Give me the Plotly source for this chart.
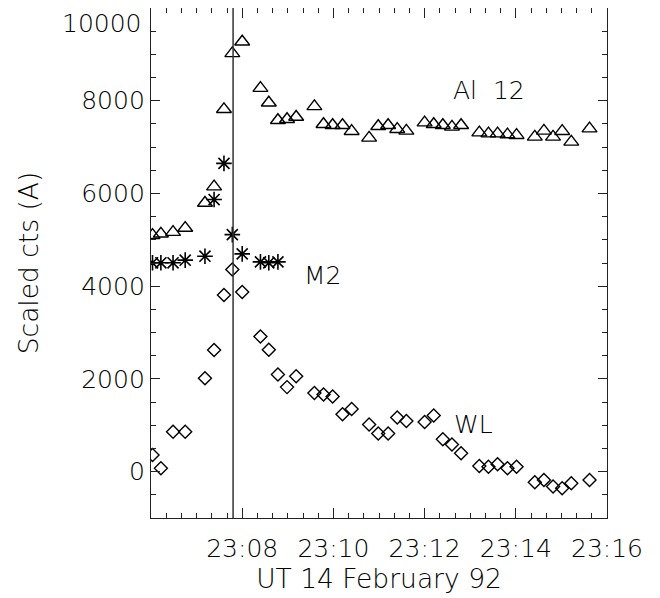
import plotly.graph_objects as go

DAY = "1992-02-14 "

# Observation times (UT) shared by the Al 12 and WL series
obs_times = ["23:06:02", "23:06:13", "23:06:29", "23:06:45", "23:07:11", "23:07:23",
             "23:07:36", "23:07:47", "23:08:00", "23:08:24", "23:08:35", "23:08:47",
             "23:08:59", "23:09:11", "23:09:35", "23:09:47", "23:09:59", "23:10:12",
             "23:10:24", "23:10:47", "23:10:59", "23:11:12", "23:11:24", "23:11:36",
             "23:12:00", "23:12:12", "23:12:24", "23:12:36", "23:12:48", "23:13:12",
             "23:13:24", "23:13:36", "23:13:49", "23:14:01", "23:14:25", "23:14:37",
             "23:14:49", "23:15:01", "23:15:13", "23:15:37"]

al12 = [5100, 5130, 5165, 5254, 5795, 6148, 7815, 9022, 9273, 8271,
        7956, 7579, 7600, 7650, 7879, 7493, 7471, 7471, 7343, 7199,
        7450, 7471, 7386, 7349, 7527, 7493, 7471, 7435, 7471, 7313,
        7291, 7291, 7270, 7257, 7221, 7349, 7221, 7343, 7113, 7399]

wl = [358, 73, 858, 858, 2016, 2625, 3811, 4362, 3875, 2917,
      2631, 2095, 1823, 2059, 1694, 1666, 1623, 1237, 1351, 1016,
      823, 823, 1166, 1094, 1072, 1209, 701, 587, 395, 122,
      107, 159, 73, 107, -227, -178, -322, -356, -249, -178]

m2_times = ["23:06:02", "23:06:13", "23:06:29", "23:06:45", "23:07:11", "23:07:23",
            "23:07:36", "23:07:47", "23:08:00", "23:08:24", "23:08:35", "23:08:47"]
m2 = [4504, 4504, 4504, 4561, 4647, 5868, 6648, 5112, 4697, 4525, 4504, 4525]

flare_time = "23:07:48"

x_range = ["23:06:00", "23:16:00"]
x_tick_times = ["23:08", "23:10", "23:12", "23:14", "23:16"]
y_range = [-1000, 10000]
y_tick_vals = [0, 2000, 4000, 6000, 8000, 10000]
y_tick_text = ["0", "2000", "4000", "6000", "8000", "10000"]

labels = [("Al\u00a0\u00a012", "23:12:35", 8210),
          ("M2", "23:09:19", 4241),
          ("WL", "23:12:36", 1027)]

INK = "#000000"
FAM = "'DejaVu Sans', sans-serif"
TICKFONT = dict(family=FAM, size=25, color=INK, weight=200)
TITLEFONT = dict(family=FAM, size=26.5, color=INK, weight=200)
LABELFONT = dict(family=FAM, size=25, color=INK, weight=200)

def d(t):
    return DAY + t

fig = go.Figure()
fig.add_trace(go.Scatter(
    x=[d(t) for t in obs_times], y=al12, mode="markers",
    marker=dict(symbol="triangle-up-open", size=13, color=INK, line=dict(width=1.4, color=INK)),
    showlegend=False))
fig.add_trace(go.Scatter(
    x=[d(t) for t in m2_times], y=m2, mode="markers",
    marker=dict(symbol="asterisk-open", size=13, color=INK, line=dict(width=1.6, color=INK)),
    showlegend=False))
fig.add_trace(go.Scatter(
    x=[d(t) for t in obs_times], y=wl, mode="markers",
    marker=dict(symbol="diamond-open", size=10, color=INK, line=dict(width=1.4, color=INK)),
    showlegend=False))

fig.add_shape(type="line", xref="x", yref="paper", x0=d(flare_time), x1=d(flare_time),
              y0=0, y1=1, line=dict(color="#333333", width=1.5))

for txt, tx, ty in labels:
    fig.add_annotation(x=d(tx), y=ty, text=txt, showarrow=False, xanchor="left",
                       yanchor="middle", font=LABELFONT)

# top y tick label drawn just inside the figure (as in the original)
fig.add_annotation(xref="paper", x=0, y=y_tick_vals[-1], text=y_tick_text[-1],
                   showarrow=False, xanchor="right", yanchor="middle",
                   xshift=-7, yshift=-15, font=TICKFONT)

axis_common = dict(showline=True, linecolor="#222222", linewidth=1.4, mirror="allticks",
                   ticks="inside", tickcolor="#222222", tickwidth=1.2, showgrid=False,
                   zeroline=False, tickfont=TICKFONT, automargin=False)

fig.update_xaxes(range=[d(x_range[0]), d(x_range[1])], type="date",
                 tickmode="array", tickvals=[d(t) for t in x_tick_times],
                 ticktext=x_tick_times, ticklen=10, ticklabelstandoff=8,
                 ticklabeloverflow="allow",
                 minor=dict(tickmode="linear", tick0=d(x_range[0]), dtick=20000,
                            ticks="inside", ticklen=5, tickcolor="#222222", tickwidth=1.2),
                 title=dict(text="UT 14 February 92", font=TITLEFONT, standoff=2),
                 **axis_common)
fig.update_yaxes(range=y_range, tickmode="array", tickvals=y_tick_vals,
                 ticktext=y_tick_text[:-1] + [""], ticklen=9,
                 minor=dict(tickmode="linear", tick0=0, dtick=500, ticks="inside",
                            ticklen=5, tickcolor="#222222", tickwidth=1.2),
                 title=dict(text="Scaled cts (A)", font=TITLEFONT, standoff=34),
                 **axis_common)

fig.update_layout(width=660, height=598, paper_bgcolor="white", plot_bgcolor="white",
                  margin=dict(l=143, r=61, t=0, b=88), font=TICKFONT)

fig.write_html("out.html")
